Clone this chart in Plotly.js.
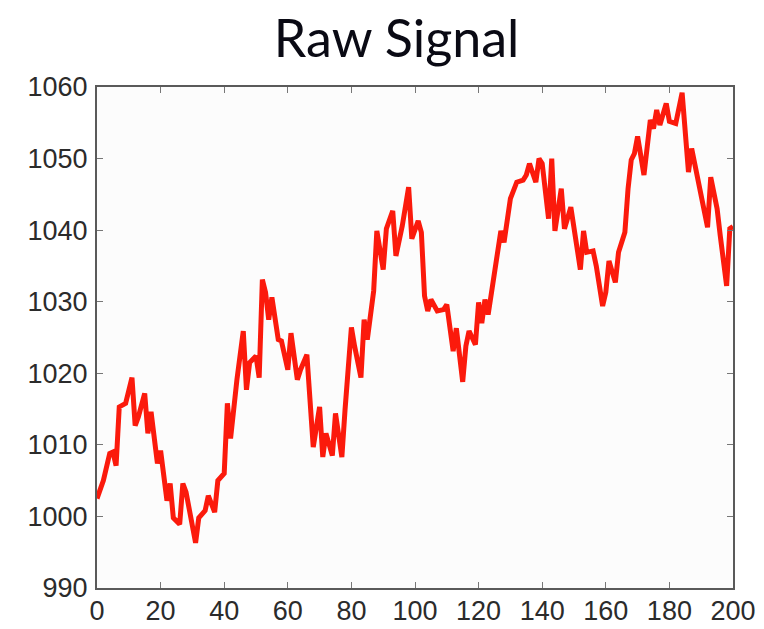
<!DOCTYPE html>
<html>
<head>
<meta charset="utf-8">
<script src="https://cdn.plot.ly/plotly-3.0.1.min.js"></script>
<style>html,body{margin:0;padding:0;background:#fff;}#chart{width:764px;height:629px;}</style>
</head>
<body>
<div id="chart"></div>
<script>
const sampleIndex = [0,2,4,5,6,7,9,11,12,13,15,16,17,19,20,22,23,24,26,27,28,29,31,32,34,35,37,38,40,41,42,44,46,47,48,50,51,52,53,54,55,57,58,60,61,63,64,66,68,70,71,72,74,75,77,78,80,81,83,84,85,87,88,90,91,93,94,96,98,99,101,102,103,104,105,107,109,110,112,113,115,116,117,119,120,121,122,123,125,126,127,128,130,132,134,135,136,138,139,140,142,143,144,146,147,149,150,152,153,154,156,157,159,160,161,163,164,166,167,168,169,170,172,174,175,176,177,179,180,182,184,185,186,187,188,190,192,193,195,196,198,199,200];
const signalValues = [1002.5,1005,1008.8,1009,1007.1,1015.3,1015.8,1019.4,1012.7,1013.9,1017.2,1011.6,1014.6,1007.4,1009.2,1002.2,1004.6,999.8,998.9,1004.6,1003.4,1001.3,996.3,999.8,1000.8,1002.9,1000.6,1005,1006,1015.8,1010.9,1019.1,1025.9,1017.7,1021.5,1022.4,1019.4,1033.1,1031.3,1027.5,1030.6,1024.7,1024.5,1020.5,1025.6,1019.1,1020.5,1022.6,1009.7,1015.3,1008.3,1011.6,1008.5,1014.4,1008.3,1014.9,1026.4,1023.8,1019.4,1027.5,1024.7,1031.5,1039.9,1034.5,1040.2,1042.7,1036.4,1040.6,1046,1038.8,1041.3,1039.7,1030.8,1028.7,1030.3,1028.7,1028.9,1029.6,1023.1,1026.3,1018.8,1023.8,1025.9,1024,1029.9,1027,1030.3,1028.2,1034.5,1037.4,1039.9,1038.3,1044.4,1046.7,1047,1047.7,1049.3,1046.7,1050,1049.3,1041.6,1050,1039.9,1045.8,1040.2,1043.2,1040.6,1034.5,1039.9,1036.9,1037.1,1035,1029.4,1031.3,1035.7,1032.7,1036.9,1039.7,1045.8,1049.8,1050.7,1053.1,1047.7,1055.4,1054.2,1056.8,1054.7,1057.7,1055.2,1054.9,1059.2,1053.3,1048.1,1051.4,1049.3,1045.3,1040.4,1047.4,1043,1039.2,1032.2,1040.2,1040.5];
const xTicks = [0,20,40,60,80,100,120,140,160,180,200];
const yTicks = [990,1000,1010,1020,1030,1040,1050,1060];
const chartTitle = 'Raw Signal';

const trace = {
  x: sampleIndex,
  y: signalValues,
  type: 'scatter',
  mode: 'lines',
  line: {color: '#fb1a0c', width: 5},
  hoverinfo: 'skip'
};

const tickFont = {family: '"Liberation Sans", Arial, Helvetica, sans-serif', size: 27, color: '#2b2b2b'};

const axisCommon = {
  showgrid: false,
  zeroline: false,
  showline: true,
  linecolor: '#5a5a5a',
  linewidth: 2,
  mirror: 'ticks',
  ticks: 'inside',
  ticklen: 6,
  tickwidth: 1,
  tickcolor: '#777',
  tickfont: tickFont
};

const layout = {
  width: 764,
  height: 629,
  margin: {l: 97, r: 31, t: 87, b: 41, pad: 0},
  paper_bgcolor: '#ffffff',
  plot_bgcolor: '#fcfcfc',
  showlegend: false,
  title: {
    text: chartTitle,
    font: {family: 'Lato, "Open Sans", sans-serif', size: 52, color: '#0a0a14'},
    x: 0.471, xref: 'paper', xanchor: 'center',
    y: 0.968, yref: 'container', yanchor: 'top'
  },
  xaxis: Object.assign({}, axisCommon, {
    range: [0, 200],
    tickmode: 'array',
    tickvals: xTicks,
    ticktext: xTicks.map(String),
    ticklabelstandoff: -2
  }),
  yaxis: Object.assign({}, axisCommon, {
    range: [990, 1060],
    tickmode: 'array',
    tickvals: yTicks,
    ticktext: yTicks.map(String),
    ticklabelstandoff: 2
  })
};

Plotly.newPlot('chart', [trace], layout, {displayModeBar: false, staticPlot: true});
</script>
</body>
</html>
